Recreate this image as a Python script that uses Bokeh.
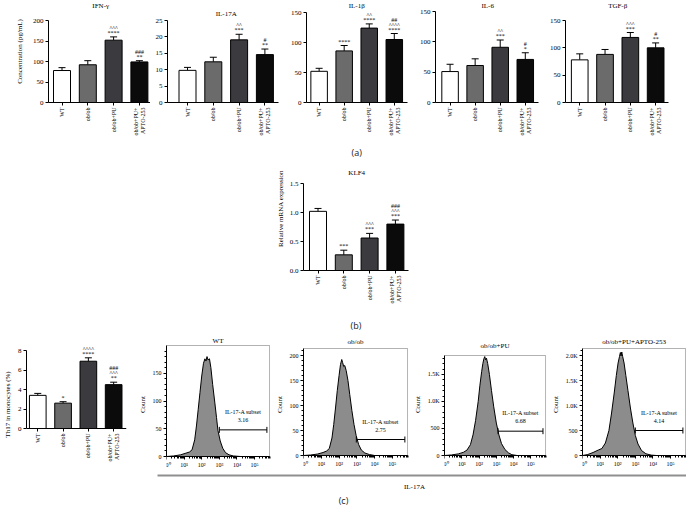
import numpy as np
from bokeh.plotting import figure
from bokeh.models import (Range1d, FixedTicker, ColumnDataSource, Whisker, TeeHead, Spacer, Label,
                          BoxAnnotation)
from bokeh.layouts import column, row
from bokeh.embed import file_html
from bokeh.resources import INLINE
from bokeh.core.properties import value

SERIF = "Liberation Serif"
SANS = "Open Sans"

# ---------------- data ----------------
groups = ["WT", "ob/ob", "ob/ob+PU", "ob/ob+PU+\nAPTO-253"]
bar_colors = ["#ffffff", "#6b6b6b", "#3a3a3f", "#0b0b0b"]

ifn_mean = [78, 92, 152, 99]
ifn_err = [7, 10, 8, 3]
ifn_sig = [[], [], ["****", "^^^"], ["**", "###"]]

il17_mean = [9.8, 12.4, 19.1, 14.6]
il17_err = [0.9, 1.4, 1.7, 1.7]
il17_sig = [[], [], ["***", "^^"], ["**", "#"]]

il1b_mean = [52, 86, 124, 105]
il1b_err = [5, 9, 7, 10]
il1b_sig = [[], ["****"], ["****", "^^"], ["****", "^^^^", "##"]]

il6_mean = [51, 61, 91, 71]
il6_err = [12, 11, 12, 11]
il6_sig = [[], [], ["***", "^^"], ["*", "#"]]

tgf_mean = [78, 88, 119, 100]
tgf_err = [11, 9, 9, 9]
tgf_sig = [[], [], ["***", "^^^"], ["**", "#"]]

klf4_mean = [1.02, 0.27, 0.56, 0.80]
klf4_err = [0.05, 0.08, 0.08, 0.07]
klf4_sig = [[], ["***"], ["***", "^^^"], ["***", "^^^", "###"]]

th17_mean = [3.4, 2.6, 6.9, 4.5]
th17_err = [0.2, 0.15, 0.35, 0.25]
th17_sig = [[], ["*"], ["****", "^^^^"], ["**", "^^^", "###"]]

# flow cytometry histograms: log10(IL-17A) positions and event counts
wt_lx = [0.0, 0.4, 0.8, 1.1, 1.3, 1.45, 1.6, 1.7, 1.8, 1.9, 2.0, 2.1, 2.18, 2.24, 2.3, 2.36, 2.44, 2.52, 2.62, 2.74, 2.84, 2.92, 3.05, 3.19, 3.35, 3.55, 3.8, 4.2, 5.85]
wt_cnt = [0, 1, 3, 6, 8, 12, 30, 55, 85, 115, 145, 168, 176, 172, 180, 174, 176, 160, 130, 98, 70, 47, 28, 15, 7, 3, 1, 0, 0]
ob_lx = [0.0, 0.4, 0.8, 1.1, 1.3, 1.45, 1.6, 1.7, 1.8, 1.9, 2.0, 2.08, 2.15, 2.2, 2.26, 2.32, 2.4, 2.5, 2.6, 2.72, 2.84, 2.96, 3.1, 3.25, 3.45, 3.7, 4.0, 5.85]
ob_cnt = [0, 1, 3, 6, 9, 14, 35, 62, 95, 130, 160, 182, 192, 186, 178, 180, 170, 150, 122, 90, 62, 40, 22, 11, 5, 2, 0, 0]
pu_lx = [0.0, 0.4, 0.8, 1.1, 1.3, 1.5, 1.65, 1.8, 1.95, 2.05, 2.15, 2.22, 2.28, 2.33, 2.38, 2.43, 2.5, 2.6, 2.72, 2.85, 3.0, 3.15, 3.3, 3.5, 3.7, 3.9, 4.2, 5.85]
pu_cnt = [0, 10, 30, 60, 100, 200, 380, 650, 1000, 1300, 1550, 1700, 1790, 1830, 1770, 1800, 1700, 1500, 1200, 900, 600, 380, 220, 110, 50, 15, 0, 0]
ap_lx = [0.0, 0.3, 0.6, 0.9, 1.1, 1.3, 1.5, 1.65, 1.8, 1.92, 2.02, 2.1, 2.15, 2.19, 2.23, 2.28, 2.36, 2.46, 2.58, 2.72, 2.86, 3.0, 3.15, 3.35, 3.6, 3.9, 4.2, 5.85]
ap_cnt = [0, 20, 60, 110, 140, 250, 500, 850, 1250, 1600, 1850, 1980, 2060, 1990, 2070, 1980, 1850, 1600, 1300, 950, 650, 400, 230, 100, 35, 8, 0, 0]

flow_titles = ["WT", "ob/ob", "ob/ob+PU", "ob/ob+PU+APTO-253"]
subset_values = ["3.16", "2.75", "6.68", "4.14"]
gate_start_log = [3.0, 2.97, 3.1, 3.0]
gate_end_log = [5.7, 5.7, 5.7, 5.7]
gate_count = [48, 32, 450, 500]
flow_decades = 5.85

decade_labels = {1: "10\u2070", 10: "10\u00b9", 100: "10\u00b2", 1000: "10\u00b3",
                 10000: "10\u2074", 100000: "10\u2075"}

FS = "7px"


def base_fig(w, h, bl, br, bt, bb, **kw):
    p = figure(width=w, height=h, min_border_left=bl, min_border_right=br,
               min_border_top=bt, min_border_bottom=bb, output_backend="svg",
               toolbar_location=None, tools="", title=None, **kw)
    p.xgrid.visible = False
    p.ygrid.visible = False
    p.outline_line_color = None
    p.background_fill_color = "white"
    p.border_fill_color = "white"
    for ax in p.axis:
        ax.axis_line_color = "black"
        ax.major_tick_line_color = "black"
        ax.minor_tick_line_color = None
        ax.major_label_text_color = "black"
        ax.major_label_text_font = SERIF
        ax.major_label_text_font_size = FS
        ax.major_label_standoff = 2
        ax.major_tick_in = 0
        ax.major_tick_out = 3
        ax.axis_label_text_font = SERIF
        ax.axis_label_text_font_size = FS
        ax.axis_label_text_font_style = "normal"
        ax.axis_label_text_color = "black"
    return p


def make_bar(w, h, bl, br, zero_px, top_px, ymax, yticks, ylab_over, means, errs, sigs,
             c0_px, title=None, title_px=None, ylabel=None, ylabel_standoff=6, sp=25.8,
             fixed=False):
    ppu = (zero_px - top_px) / ymax
    if fixed:
        p = base_fig(w, h, bl, br, 0, 0)
        p.y_range = Range1d(-(h - zero_px) / ppu, zero_px / ppu)
    else:
        p = base_fig(w, h, bl, br, 0, h - zero_px)
        p.y_range = Range1d(0, zero_px / ppu)
    fw = w - bl - br
    x0 = 1 - c0_px / sp
    p.x_range = Range1d(x0, x0 + fw / sp)
    xs = [1, 2, 3, 4]
    p.vbar(x=xs, top=means, width=17 / sp, fill_color=bar_colors, line_color="black", line_width=1)
    src = ColumnDataSource(dict(x=xs, lo=means, hi=[m + e for m, e in zip(means, errs)]))
    p.add_layout(Whisker(source=src, base="x", lower="lo", upper="hi",
                         upper_head=TeeHead(size=7, line_color="black", line_width=1),
                         lower_head=None, line_color="black", line_width=1))
    tx, ty, tt = [], [], []
    for i, (m, e, s) in enumerate(zip(means, errs, sigs)):
        for k, sym in enumerate(s):
            tx.append(xs[i])
            ty.append(m + e + (4 + 5 * k) / ppu)
            tt.append(sym)
    if tt:
        p.text(x=tx, y=ty, text=tt, text_font=value(SERIF), text_font_size="6px",
               text_align="center", text_baseline="middle", text_color="black")
    if title:
        p.text(x=[2.5], y=[(zero_px - title_px) / ppu], text=[title], text_font=value(SERIF),
               text_font_size="7px", text_align="center", text_baseline="middle", text_color="black")
    xa = p.xaxis[0]
    xa.ticker = FixedTicker(ticks=xs)
    xa.major_label_overrides = {i + 1: g for i, g in enumerate(groups)}
    xa.major_label_orientation = np.pi / 2
    xa.major_label_text_font_size = "6px"
    if fixed:
        xa.fixed_location = 0
    ya = p.yaxis[0]
    ya.ticker = FixedTicker(ticks=yticks)
    ya.bounds = (0, ymax)
    if ylab_over:
        ya.major_label_overrides = ylab_over
    if ylabel:
        ya.axis_label = ylabel
        ya.axis_label_standoff = ylabel_standoff
    return p, ppu


def make_flow(w, h, bl, br, box_top_px, box_bot_px, title_px, ymax, yticks, ylab_over, yminor,
              lx, cnt, idx, ylabel="Count"):
    p = base_fig(w, h, bl, br, 0, 0, x_axis_type="log")
    ppu = (box_bot_px - box_top_px) / ymax
    p.y_range = Range1d(-(h - box_bot_px) / ppu, ymax + box_top_px / ppu)
    fw = w - bl - br
    px_dec = (fw - 1) / flow_decades
    xmax = 10 ** flow_decades
    p.x_range = Range1d(1, 10 ** (fw / px_dec))
    p.add_layout(BoxAnnotation(left=1, right=xmax, bottom=0, top=ymax, fill_color=None,
                               line_color="black", line_width=1))
    xv = [10 ** v for v in lx]
    p.varea(x=xv, y1=[0] * len(xv), y2=cnt, fill_color="#8c8c8c")
    p.line(x=xv, y=cnt, line_color="black", line_width=1)
    g0 = 10 ** gate_start_log[idx]
    g1 = 10 ** gate_end_log[idx]
    gy = gate_count[idx]
    p.segment(x0=[g0], y0=[gy], x1=[g1], y1=[gy], line_color="black", line_width=1)
    p.scatter(x=[g0, g1], y=[gy, gy], marker="dash", angle=np.pi / 2, size=6,
              line_color="black", line_width=1)
    gc = (g0 * g1) ** 0.5
    p.text(x=[gc, gc], y=[gy + 18 / ppu, gy + 10 / ppu], text=["IL-17-A subset", subset_values[idx]],
           text_font=value(SERIF), text_font_size="6px", text_align="center",
           text_baseline="middle", text_color="black")
    p.text(x=[10 ** (flow_decades / 2)], y=[ymax + (box_top_px - title_px) / ppu],
           text=[flow_titles[idx]], text_font=value(SERIF), text_font_size="7px",
           text_align="center", text_baseline="middle", text_color="black")
    xa = p.xaxis[0]
    majors = [1, 10, 100, 1000, 10000, 100000]
    minors = [m * 10 ** k for k in range(0, 6) for m in range(2, 10)]
    xa.ticker = FixedTicker(ticks=majors, minor_ticks=minors)
    xa.major_label_overrides = decade_labels
    xa.minor_tick_line_color = "black"
    xa.minor_tick_in = 0
    xa.minor_tick_out = 2
    xa.major_label_text_font_size = "6px"
    xa.fixed_location = 0
    xa.bounds = (1, xmax)
    ya = p.yaxis[0]
    ya.ticker = FixedTicker(ticks=yticks, minor_ticks=yminor)
    ya.minor_tick_line_color = "black"
    ya.minor_tick_in = 0
    ya.minor_tick_out = 2
    ya.major_label_text_font_size = "6px"
    ya.bounds = (0, ymax)
    if ylab_over:
        ya.major_label_overrides = ylab_over
    ya.axis_label = ylabel
    ya.axis_label_standoff = 3
    return p


# ---------------- row (a) ----------------
H_A = 146
ifn, _ = make_bar(150, H_A, 48, 0, 102, 20, 200, [0, 50, 100, 150, 200], None, ifn_mean, ifn_err,
                  ifn_sig, 13.5, "IFN-\u03b3", 5, ylabel="Concentration (pg/mL)", ylabel_standoff=6)
il17, _ = make_bar(137, H_A, 17, 9, 102, 20, 25, [0, 5, 10, 15, 20, 25], None, il17_mean, il17_err,
                   il17_sig, 20, "IL-17A", 13)
il1b, _ = make_bar(129, H_A, 16, 9, 102, 12, 150, [0, 50, 100, 150], None, il1b_mean, il1b_err,
                   il1b_sig, 13, "IL-1\u03b2", 5)
il6, _ = make_bar(130, H_A, 16, 8, 102, 11, 150, [0, 50, 100, 150], None, il6_mean, il6_err,
                  il6_sig, 15, "IL-6", 5)
tgf, _ = make_bar(140, H_A, 17, 18, 102, 20, 150, [0, 50, 100, 150], None, tgf_mean, tgf_err,
                  tgf_sig, 14.5, "TGF-\u03b2", 5)
row_a = row(ifn, il17, il1b, il6, tgf)

# ---------------- row (b) ----------------
H_B = 190
klf4, ppu_k = make_bar(150, H_B, 33, 12, 124, 37, 1.5, [0, 0.5, 1.0, 1.5],
                       {0: "0.0", 0.5: "0.5", 1: "1.0", 1.5: "1.5"}, klf4_mean, klf4_err, klf4_sig,
                       14.5, "KLF4", 26, ylabel="Relative mRNA expression", ylabel_standoff=2)
klf4.text(x=[2.5], y=[(124 - 6) / ppu_k], text=["(a)"], text_font=value(SANS), text_font_size="9px",
          text_align="center", text_baseline="middle", text_color="#222222")
kx = klf4.xaxis[0]
kx.axis_label = "(b)"
kx.axis_label_text_font = SANS
kx.axis_label_text_font_size = "9px"
kx.axis_label_text_color = "#222222"
kx.axis_label_standoff = 12
row_b = row(Spacer(width=270, height=H_B), klf4, Spacer(width=266, height=H_B))

# ---------------- row (c) ----------------
H_C = 136
th17, _ = make_bar(135, H_C, 24, 9, 92, 14, 8, [0, 2, 4, 6, 8], None, th17_mean, th17_err, th17_sig,
                   11.5, ylabel="Th17 in monocytes (%)", ylabel_standoff=3, fixed=True)
f_wt = make_flow(137, H_C, 26, 2, 9, 120, 4, 200, [0, 50, 100, 150], None,
                 list(range(10, 200, 10)), wt_lx, wt_cnt, 0)
f_ob = make_flow(138, H_C, 27, 2, 12, 119, 5, 214, [0, 50, 100, 150, 200], None,
                 list(range(10, 214, 10)), ob_lx, ob_cnt, 1)
f_pu = make_flow(138, H_C, 27, 2, 19, 119, 9, 1850, [0, 500, 1000, 1500],
                 {0: "0", 500: "500", 1000: "1.0K", 1500: "1.5K"},
                 list(range(100, 1850, 100)), pu_lx, pu_cnt, 2)
f_ap = make_flow(138, H_C, 29, 0, 12, 119, 5, 2140, [0, 500, 1000, 1500, 2000],
                 {0: "0", 500: "500", 1000: "1.0K", 1500: "1.5K", 2000: "2.0K"},
                 list(range(100, 2140, 100)), ap_lx, ap_cnt, 3)
row_c = row(th17, f_wt, f_ob, f_pu, f_ap)

# ---------------- bottom strip ----------------
H_D = 37
strip = figure(width=686, height=H_D, min_border_left=0, min_border_right=0, min_border_top=0,
               min_border_bottom=0, output_backend="svg", toolbar_location=None, tools="", title=None,
               x_range=Range1d(0, 686), y_range=Range1d(H_D, 0))
strip.axis.visible = False
strip.grid.visible = False
strip.outline_line_color = None
strip.segment(x0=[157], y0=[3], x1=[686], y1=[3], line_color="#8f8f8f", line_width=2)
strip.text(x=[414], y=[14], text=["IL-17A"], text_font=value(SERIF), text_font_size="7px",
           text_align="center", text_baseline="middle", text_color="black")
strip.text(x=[343], y=[28], text=["(c)"], text_font=value(SANS), text_font_size="9px",
           text_align="center", text_baseline="middle", text_color="#222222")

layout = column(row_a, row_b, row_c, strip)
open("out.html", "w").write(file_html(layout, INLINE))
